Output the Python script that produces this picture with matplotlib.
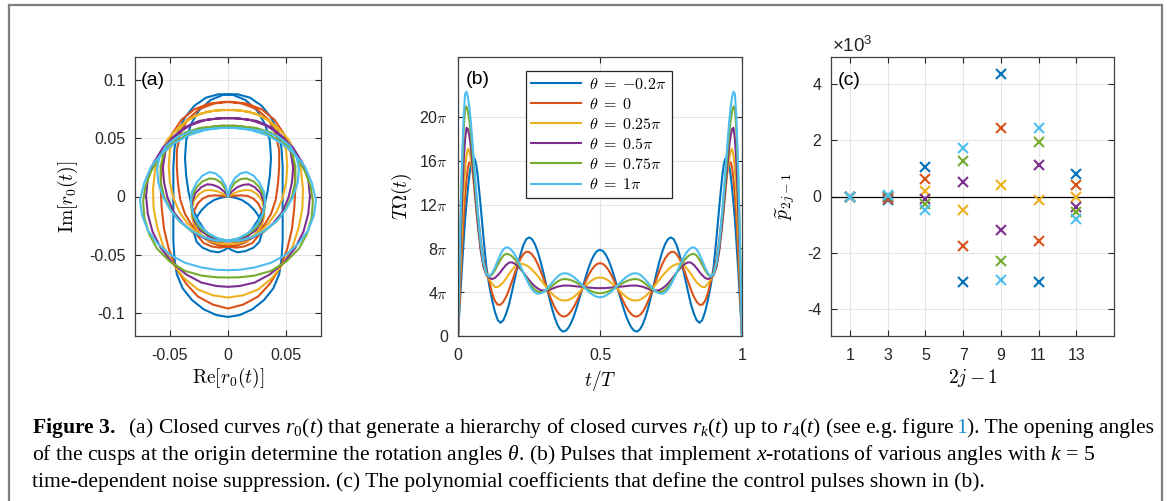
import numpy as np
import matplotlib
matplotlib.use("Agg")
import matplotlib.pyplot as plt
from matplotlib.lines import Line2D

plt.rcParams["font.family"] = "Liberation Sans"
plt.rcParams["mathtext.fontset"] = "cm"
plt.rcParams["mathtext.rm"] = "Liberation Serif"
plt.rcParams["mathtext.it"] = "Liberation Serif:italic"
plt.rcParams["mathtext.bf"] = "Liberation Serif:bold"
plt.rcParams["axes.unicode_minus"] = False

colors = ["#0072BD", "#D95319", "#EDB120", "#7E2F8E", "#77AC30", "#4DBEEE"]
theta_labels = [r"$\theta\;=\;{-}0.2\pi$", r"$\theta\;=\;0$", r"$\theta\;=\;0.25\pi$",
                r"$\theta\;=\;0.5\pi$", r"$\theta\;=\;0.75\pi$", r"$\theta\;=\;1\pi$"]

# ---- (a) closed curves r0(t), first half of each path (origin -> bottom), second half is the mirror
a_blue_x = [0, -0.006, -0.012, -0.018, -0.023, -0.027, -0.029, -0.029, -0.027, -0.022, -0.015, -0.008, -0.003, 0.0,
            0.006, 0.013, 0.020, 0.026, 0.031, 0.034, 0.036, 0.037, 0.036, 0.032, 0.025, 0.015, 0.004,
            -0.008, -0.019, -0.029, -0.037, -0.043, -0.046, -0.047, -0.047, -0.047, -0.047, -0.047, -0.046, -0.044,
            -0.039, -0.031, -0.021, -0.010, 0.0]
a_blue_y = [0, -0.001, -0.003, -0.007, -0.012, -0.018, -0.025, -0.032, -0.039, -0.044, -0.047, -0.048, -0.046, -0.044,
            -0.041, -0.036, -0.029, -0.020, -0.009, 0.004, 0.018, 0.033, 0.048, 0.062, 0.074, 0.083, 0.0875,
            0.088, 0.085, 0.078, 0.068, 0.056, 0.042, 0.026, 0.010, -0.006, -0.022, -0.038, -0.054, -0.067,
            -0.079, -0.089, -0.097, -0.102, -0.1036]
a_red_x = [0, -0.005, -0.011, -0.017, -0.022, -0.026, -0.029, -0.030, -0.029, -0.026, -0.021, -0.014, -0.007, 0.0,
           0.008, 0.016, 0.024, 0.031, 0.037, 0.041, 0.043, 0.044, 0.044, 0.041, 0.035, 0.025, 0.012,
           -0.002, -0.016, -0.029, -0.040, -0.048, -0.054, -0.057, -0.058, -0.057, -0.055, -0.051, -0.045, -0.036,
           -0.026, -0.013, 0.0]
a_red_y = [0, 0.0005, 0.001, 0.0005, -0.002, -0.006, -0.012, -0.019, -0.027, -0.034, -0.040, -0.043, -0.044, -0.043,
           -0.042, -0.039, -0.033, -0.025, -0.015, -0.003, 0.011, 0.025, 0.040, 0.054, 0.066, 0.075, 0.080,
           0.0815, 0.080, 0.075, 0.066, 0.054, 0.040, 0.024, 0.008, -0.010, -0.028, -0.045, -0.061, -0.075,
           -0.086, -0.093, -0.0964]
a_yellow_x = [0, -0.004, -0.009, -0.015, -0.020, -0.025, -0.029, -0.031, -0.031, -0.028, -0.023, -0.016, -0.008, 0.0,
              0.009, 0.018, 0.027, 0.035, 0.042, 0.047, 0.050, 0.051, 0.050, 0.045, 0.037, 0.025, 0.011,
              -0.004, -0.018, -0.031, -0.042, -0.052, -0.059, -0.063, -0.0645, -0.064, -0.061, -0.056, -0.048, -0.038,
              -0.026, -0.013, 0.0]
a_yellow_y = [0, 0.002, 0.0045, 0.0055, 0.0052, 0.002, -0.003, -0.010, -0.018, -0.026, -0.033, -0.038, -0.040, -0.041,
              -0.040, -0.037, -0.031, -0.023, -0.013, -0.001, 0.012, 0.026, 0.040, 0.053, 0.064, 0.071, 0.074,
              0.0745, 0.073, 0.068, 0.060, 0.049, 0.036, 0.021, 0.006, -0.010, -0.026, -0.042, -0.057, -0.070,
              -0.080, -0.085, -0.0869]
a_purple_x = [0, -0.003, -0.008, -0.013, -0.018, -0.023, -0.028, -0.031, -0.031, -0.029, -0.024, -0.017, -0.009, 0.0,
              0.010, 0.020, 0.030, 0.039, 0.047, 0.052, 0.055, 0.056, 0.054, 0.048, 0.038, 0.025, 0.010,
              -0.005, -0.019, -0.033, -0.045, -0.056, -0.064, -0.069, -0.0705, -0.069, -0.065, -0.058, -0.048, -0.036,
              -0.023, -0.010, 0.0]
a_purple_y = [0, 0.004, 0.008, 0.010, 0.0105, 0.008, 0.003, -0.005, -0.013, -0.021, -0.029, -0.034, -0.037, -0.0385,
              -0.0385, -0.036, -0.031, -0.023, -0.013, -0.001, 0.012, 0.025, 0.038, 0.050, 0.059, 0.065, 0.067,
              0.0675, 0.066, 0.061, 0.053, 0.042, 0.029, 0.015, 0.000, -0.015, -0.030, -0.044, -0.057, -0.067,
              -0.074, -0.077, -0.0777]
a_green_x = [0, -0.002, -0.006, -0.011, -0.016, -0.022, -0.027, -0.031, -0.032, -0.030, -0.025, -0.018, -0.009, 0.0,
             0.010, 0.021, 0.031, 0.041, 0.049, 0.055, 0.058, 0.058, 0.055, 0.048, 0.037, 0.024, 0.009,
             -0.006, -0.020, -0.034, -0.047, -0.058, -0.066, -0.071, -0.073, -0.072, -0.068, -0.061, -0.050, -0.037,
             -0.023, -0.010, 0.0]
a_green_y = [0, 0.006, 0.012, 0.015, 0.0155, 0.013, 0.008, 0.000, -0.008, -0.017, -0.026, -0.032, -0.036, -0.038,
             -0.038, -0.035, -0.030, -0.022, -0.012, 0.000, 0.013, 0.026, 0.038, 0.048, 0.055, 0.059, 0.0605,
             0.061, 0.059, 0.054, 0.046, 0.035, 0.022, 0.009, -0.004, -0.018, -0.032, -0.045, -0.056, -0.064,
             -0.068, -0.0695, -0.0697]
a_cyan_x = [0, -0.002, -0.006, -0.011, -0.016, -0.022, -0.027, -0.031, -0.032, -0.030, -0.025, -0.018, -0.009, 0.0,
            0.010, 0.021, 0.032, 0.042, 0.050, 0.056, 0.060, 0.061, 0.059, 0.053, 0.044, 0.032, 0.018, 0.004,
            -0.008, -0.020, -0.033, -0.046, -0.057, -0.066, -0.072, -0.0757, -0.074, -0.069, -0.061, -0.050, -0.037,
            -0.023, -0.010, 0.0]
a_cyan_y = [0, 0.009, 0.016, 0.020, 0.021, 0.018, 0.012, 0.004, -0.005, -0.015, -0.024, -0.031, -0.036, -0.038,
            -0.038, -0.035, -0.029, -0.021, -0.011, 0.000, 0.012, 0.024, 0.034, 0.044, 0.051, 0.056, 0.058, 0.059,
            0.059, 0.057, 0.053, 0.046, 0.037, 0.026, 0.012, -0.003, -0.016, -0.029, -0.040, -0.050, -0.057,
            -0.061, -0.063, -0.0634]
a_halves = [(a_blue_x, a_blue_y), (a_red_x, a_red_y), (a_yellow_x, a_yellow_y),
            (a_purple_x, a_purple_y), (a_green_x, a_green_y), (a_cyan_x, a_cyan_y)]

# ---- (b) pulses T*Omega(t) in units of pi, first half t in [0, 0.5]; the pulses are symmetric about t = T/2
t_half = [0, .005, .01, .015, .02, .025, .03, .035, .04, .045, .05, .055, .06, .065, .07,
          .08, .09, .10, .11, .12, .13, .14, .15, .16, .17, .18, .19, .20, .21, .22, .23, .24, .25,
          .26, .27, .28, .29, .30, .31, .32, .33, .34, .35, .36, .37, .38, .39, .40, .41, .42, .43,
          .44, .45, .46, .47, .48, .49, .50]
b_blue = [0, 2.3, 4.5, 6.7, 8.7, 10.6, 12.1, 13.5, 14.7, 15.5, 16.1, 16.3, 16.1, 15.5, 14.5,
          11.8, 8.9, 6.3, 4.6, 3.3, 2.2, 1.45, 1.2, 1.46, 2.07, 2.93, 4.04, 5.22, 6.4, 7.44, 8.28, 8.82, 9.0,
          8.86, 8.43, 7.75, 6.87, 5.86, 4.75, 3.65, 2.61, 1.72, 1.03, 0.58, 0.4, 0.49, 0.79, 1.30, 1.96, 2.76, 3.63,
          4.55, 5.42, 6.23, 6.92, 7.44, 7.76, 7.87]
b_red = [0, 3.0, 5.8, 8.5, 10.8, 12.7, 14.3, 15.4, 15.85, 15.8, 15.3, 14.5, 13.5, 12.3, 11.1,
         8.8, 7.0, 5.9, 5.0, 3.9, 3.2, 2.85, 2.86, 3.14, 3.61, 4.25, 4.98, 5.74, 6.45, 7.05, 7.47, 7.68, 7.67,
         7.47, 7.11, 6.6, 6.0, 5.31, 4.59, 3.88, 3.22, 2.64, 2.19, 1.9, 1.77, 1.82, 2.0, 2.32, 2.76, 3.28, 3.85,
         4.45, 5.03, 5.57, 6.02, 6.36, 6.58, 6.65]
b_yellow = [0, 3.7, 7.2, 10.4, 13.1, 15.2, 16.5, 17.08, 16.9, 16.2, 15.2, 14.0, 12.7, 11.4, 10.1,
            7.9, 6.3, 5.5, 5.2, 4.75, 4.47, 4.48, 4.65, 4.92, 5.27, 5.66, 6.03, 6.33, 6.53, 6.6, 6.56, 6.46, 6.3,
            6.07, 5.8, 5.5, 5.17, 4.83, 4.49, 4.17, 3.89, 3.63, 3.44, 3.31, 3.24, 3.24, 3.3, 3.43, 3.61, 3.84, 4.09,
            4.35, 4.61, 4.85, 5.05, 5.21, 5.31, 5.34]
b_purple = [0, 4.6, 9.0, 12.8, 15.9, 18.0, 19.0, 18.9, 18.3, 17.3, 16.0, 14.5, 13.0, 11.5, 10.1,
            7.8, 6.3, 5.6, 5.3, 5.2, 5.3, 5.55, 5.85, 6.2, 6.5, 6.7, 6.72, 6.6, 6.4, 6.1, 5.8, 5.45, 5.1,
            4.8, 4.55, 4.35, 4.2, 4.15, 4.15, 4.2, 4.3, 4.4, 4.5, 4.55, 4.6, 4.6, 4.6, 4.58, 4.55, 4.52, 4.5,
            4.47, 4.45, 4.42, 4.4, 4.38, 4.37, 4.37]
b_green = [0, 5.8, 11.3, 15.6, 18.9, 20.7, 20.95, 20.5, 19.7, 18.5, 17.1, 15.5, 13.9, 12.3, 10.8,
           8.3, 6.6, 5.7, 5.41, 5.61, 6.0, 6.5, 6.97, 7.35, 7.5, 7.45, 7.28, 7.01, 6.64, 6.23, 5.77, 5.31, 4.88,
           4.52, 4.24, 4.06, 4.0, 4.04, 4.15, 4.33, 4.54, 4.76, 4.96, 5.11, 5.19, 5.2, 5.15, 5.08, 4.96, 4.83, 4.67,
           4.51, 4.35, 4.2, 4.08, 3.98, 3.92, 3.9]
b_cyan = [0, 6.2, 12.0, 16.6, 20.1, 22.1, 22.3, 21.8, 20.9, 19.6, 18.0, 16.3, 14.6, 12.9, 11.3,
          8.6, 6.7, 5.6, 5.44, 5.73, 6.25, 6.88, 7.48, 7.92, 8.1, 8.03, 7.8, 7.43, 6.95, 6.39, 5.8, 5.22, 4.7,
          4.28, 3.99, 3.86, 3.88, 4.0, 4.23, 4.51, 4.82, 5.14, 5.41, 5.61, 5.72, 5.72, 5.65, 5.52, 5.33, 5.1, 4.84,
          4.57, 4.3, 4.05, 3.84, 3.68, 3.57, 3.54]
b_halves = [b_blue, b_red, b_yellow, b_purple, b_green, b_cyan]

# ---- (c) polynomial coefficients
c_orders = [1, 3, 5, 7, 9, 11, 13]
c_blue = [0, -120, 1030, -3020, 4350, -3020, 810]
c_red = [0, -80, 610, -1760, 2440, -1590, 400]
c_yellow = [0, -30, 200, -470, 420, -110, -10]
c_purple = [0, 0, -90, 530, -1170, 1110, -370]
c_green = [0, 30, -270, 1270, -2280, 1940, -540]
c_cyan = [0, 50, -480, 1700, -2940, 2440, -780]
c_series = [c_blue, c_red, c_yellow, c_purple, c_green, c_cyan]

W, H = 1167, 501
fig = plt.figure(figsize=(W / 100, H / 100), dpi=100)


def px_axes(left, top, right, bottom):
    return fig.add_axes([left / W, 1 - bottom / H, (right - left) / W, (bottom - top) / H])


def style(ax):
    ax.tick_params(direction="in", length=4, width=0.8, top=True, right=True,
                   color="#262626", labelcolor="#262626", labelsize=11.5, pad=7)
    ax.tick_params(axis="x", pad=9)
    for s in ax.spines.values():
        s.set_color("#404040")
        s.set_linewidth(0.9)
    ax.grid(True, color="#e4e4e4", lw=0.8)
    ax.set_axisbelow(True)


# (a)
ax1 = px_axes(135, 57, 321, 336)
for (hx, hy), c in zip(a_halves, colors):
    hx = np.asarray(hx)
    hy = np.asarray(hy)
    ax1.plot(np.r_[hx, -hx[::-1]], np.r_[hy, hy[::-1]], color=c, lw=1.5)
ax1.set_xlim(-0.08, 0.08)
ax1.set_ylim(-0.12, 0.12)
ax1.set_xticks([-0.05, 0, 0.05])
ax1.set_xticklabels(["-0.05", "0", "0.05"])
ax1.set_yticks([-0.1, -0.05, 0, 0.05, 0.1])
ax1.set_yticklabels(["-0.1", "-0.05", "0", "0.05", "0.1"])
style(ax1)
ax1.set_xlabel(r"$\mathrm{Re}[r_0(t)]$", fontsize=14)
ax1.set_ylabel(r"$\mathrm{Im}[r_0(t)]$", fontsize=14)
ax1.xaxis.set_label_coords(0.5, -0.15)
ax1.xaxis.label.set_va("center")
ax1.yaxis.set_label_coords(-0.36, 0.5)
ax1.yaxis.label.set_va("center")
ax1.text(0.03, 0.914, "(a)", transform=ax1.transAxes, fontsize=14, va="center", ha="left")

# (b)
ax2 = px_axes(458, 57, 742, 336)
th = np.asarray(t_half)
for vals, c, lab in zip(b_halves, colors, theta_labels):
    v = np.asarray(vals)
    ax2.plot(np.r_[th, 1 - th[::-1]], np.r_[v, v[::-1]] * np.pi, color=c, lw=1.5, label=lab)
ax2.set_xlim(0, 1)
ax2.set_ylim(0, 80)
ax2.set_xticks([0, 0.5, 1])
ax2.set_xticklabels(["0", "0.5", "1"])
ax2.set_yticks([k * 4 * np.pi for k in range(6)])
ax2.set_yticklabels(["0"] + [str(4 * k) + r"$\pi$" for k in range(1, 6)])
style(ax2)
ax2.set_xlabel(r"$t/T$", fontsize=14)
ax2.set_ylabel(r"$T\Omega(t)$", fontsize=14)
ax2.xaxis.set_label_coords(0.5, -0.158)
ax2.xaxis.label.set_va("center")
ax2.yaxis.set_label_coords(-0.198, 0.5)
ax2.yaxis.label.set_va("center")
ax2.text(0.028, 0.92, "(b)", transform=ax2.transAxes, fontsize=14, va="center", ha="left")
leg = ax2.legend(loc="upper left", bbox_to_anchor=(0.238, 0.95), borderaxespad=0, fontsize=11.5,
                 handlelength=3.1, handletextpad=0.5, labelspacing=0.32, borderpad=0.35,
                 fancybox=False, framealpha=1, edgecolor="#262626")
leg.get_frame().set_linewidth(0.9)

# (c)
ax3 = px_axes(831, 57, 1114, 336)
ax3.axhline(0, color="black", lw=0.9)
for vals, c in zip(c_series, colors):
    ax3.plot(c_orders, vals, "x", color=c, ms=7, mew=1.5)
ax3.set_xlim(0, 15)
ax3.set_ylim(-4940, 4940)
ax3.set_xticks(c_orders)
ax3.set_xticklabels([str(o) for o in c_orders])
ax3.set_yticks([-4000, -2000, 0, 2000, 4000])
ax3.set_yticklabels(["-4", "-2", "0", "2", "4"])
style(ax3)
ax3.set_xlabel(r"$2j-1$", fontsize=14)
ax3.set_ylabel(r"$\widetilde{p}_{2j-1}$", fontsize=14)
ax3.xaxis.set_label_coords(0.5, -0.15)
ax3.xaxis.label.set_va("center")
ax3.yaxis.set_label_coords(-0.163, 0.5)
ax3.yaxis.label.set_va("center")
ax3.text(0.025, 0.917, "(c)", transform=ax3.transAxes, fontsize=14, va="center", ha="left")
ax3.text(0.005, 1.04, r"$\mathregular{\times10^{3}}$", transform=ax3.transAxes, fontsize=13.5,
         va="center", ha="left", color="#262626")

# page frame
fc = "#7f7f7f"
fig.add_artist(Line2D([8.5 / W, 8.5 / W], [0, 1 - 4.5 / H], color=fc, lw=1.6))
fig.add_artist(Line2D([8.5 / W, 1162 / W], [1 - 4.5 / H, 1 - 4.5 / H], color=fc, lw=1.6))
fig.add_artist(Line2D([1162 / W, 1162 / W], [0, 1 - 4.5 / H], color=fc, lw=1.6))

# caption
cap = dict(fontsize=15.6, family="Liberation Serif", math_fontfamily="custom", va="baseline")
renderer = fig.canvas.get_renderer()
t1 = fig.text(32 / W, 1 - 433 / H,
              r"$\mathbf{Figure\ 3.}$  (a) Closed curves $r_0(t)$ that generate a hierarchy of closed curves "
              r"$r_k(t)$ up to $r_4(t)$ (see e.g. figure ", **cap)
x_end = t1.get_window_extent(renderer).x1
t2 = fig.text(x_end / W, 1 - 433 / H, "1", color="#1f8fd0", **cap)
x_end = t2.get_window_extent(renderer).x1
fig.text(x_end / W, 1 - 433 / H, "). The opening angles", **cap)
fig.text(32 / W, 1 - 460 / H,
         r"of the cusps at the origin determine the rotation angles $\theta$. (b) Pulses that implement "
         r"$x$-rotations of various angles with $k$ = 5", **cap)
fig.text(32 / W, 1 - 487 / H,
         "time-dependent noise suppression. (c) The polynomial coefficients that define the control pulses shown in (b).",
         **cap)

fig.savefig("out.png", dpi=100)
